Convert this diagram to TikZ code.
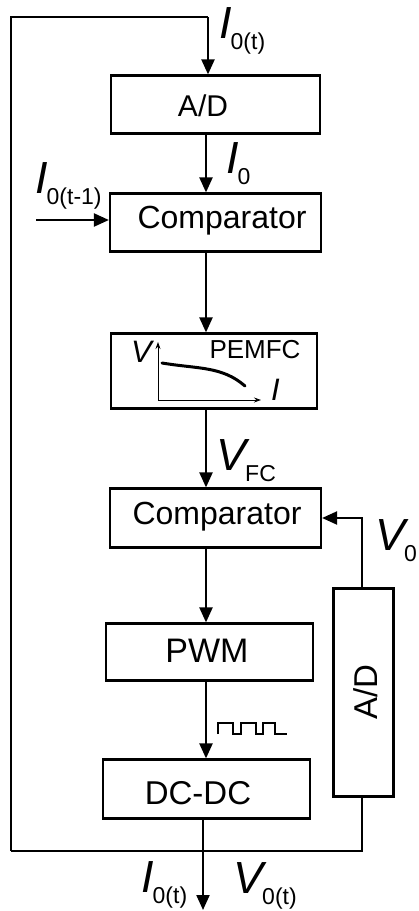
\documentclass[tikz,border=0pt]{standalone}
\usepackage{fontspec}
\setmainfont{Liberation Sans}
\usetikzlibrary{arrows.meta}
\newcommand{\biglab}[2]{{\fontsize{45}{45}\selectfont\itshape #1}\kern-1pt\raisebox{-11pt}{\fontsize{23}{23}\selectfont #2}}
\newcommand{\fs}[1]{\fontsize{#1}{#1}\selectfont}
\tikzset{
  blk/.style={draw, line width=2.2pt, rectangle, inner sep=0pt},
  txt/.style={inner sep=0pt, anchor=base},
  lab/.style={inner sep=0pt, anchor=base west},
  wire/.style={line width=2.2pt},
  arr/.style={line width=2.2pt, -{Triangle[length=15pt,width=13pt]}},
  axis/.style={line width=0.9pt, -{Stealth[length=7pt,width=5pt]}},
}
\begin{document}
\begin{tikzpicture}[x=1pt,y=-1pt]
\path[use as bounding box, fill=white] (0,0) rectangle (418,911);
% boxes
\node[blk, minimum width=209pt, minimum height=58pt] (ad1) at (215.5,104.5) {};
\node[blk, minimum width=211pt, minimum height=58pt] (cmp1) at (215.5,222.5) {};
\node[blk, minimum width=206pt, minimum height=75pt] (pem) at (214,371) {};
\node[blk, minimum width=211pt, minimum height=59pt] (cmp2) at (215.5,518) {};
\node[blk, minimum width=207pt, minimum height=57pt] (pwm) at (209.5,652) {};
\node[blk, minimum width=207pt, minimum height=59pt] (dcdc) at (206.5,789) {};
\node[blk, minimum width=60pt, minimum height=208pt] (ad2) at (363.5,692.5) {};
% box texts
\node[txt] (tad1) at (203,116) {\fs{30}A/D};
\node[txt] (tcmp1) at (222,228) {\fs{32}Comparator};
\node[txt] (tcmp2) at (217,524) {\fs{32}Comparator};
\node[txt] (tpwm) at (207,662) {\fs{34}PWM};
\node[txt] (tdcdc) at (198,804) {\fs{33}DC-DC};
\node[txt, rotate=90] (tad2) at (377,692) {\fs{33}A/D};
% PEMFC contents
\node[txt] (tpem) at (255,358) {\fs{26}PEMFC};
\node[lab] (tv) at (131,362) {\fs{31}\itshape V};
\node[lab] (ti) at (271,400) {\fs{31}\itshape I};
\coordinate (org) at (158,400);
\coordinate (ytop) at (158,342);
\coordinate (xend) at (261,400);
\draw[axis] (org) -- (ytop);
\draw[axis] (org) -- (xend);
\draw[line width=3pt, line cap=round] (162,363) .. controls (198,369) and (222,366) .. (245,386);
% coordinates
\coordinate (tl) at (11,17);
\coordinate (tr) at (208,17);
\coordinate (bl) at (11,851);
\coordinate (br) at (362,851);
\coordinate (cx) at (206,0);
\coordinate (in1) at (36,220);
\coordinate (vup) at (362,518);
\coordinate (ox) at (203,0);
\coordinate (out) at (203,910);
% connectors
\draw[wire] (bl) -- (tl) -- (tr);
\draw[arr] (tr) -- (tr |- ad1.north);
\draw[arr] (cx |- ad1.south) -- (cx |- cmp1.north);
\draw[arr] (in1) -- (in1 -| cmp1.west);
\draw[arr] (cx |- cmp1.south) -- (cx |- pem.north);
\draw[arr] (cx |- pem.south) -- (cx |- cmp2.north);
\draw[arr] (cx |- cmp2.south) -- (cx |- pwm.north);
\draw[arr] (cx |- pwm.south) -- (cx |- dcdc.north);
\draw[arr] (ox |- dcdc.south) -- (out);
\draw[wire] (bl) -- (br) -- (br |- ad2.south);
\draw[arr] (vup |- ad2.north) -- (vup) -- (cmp2.east |- vup);
% pulse train
\draw[line width=2pt] (218,734) -- (218,723) -- (233,723) -- (233,734) -- (241,734) -- (241,723) -- (256,723) -- (256,734) -- (263,734) -- (263,723) -- (275,723) -- (275,734) -- (287,734);
% labels
\node[lab] (l1) at (219,38) {\biglab{I}{0(t)}};
\node[lab] (l2) at (226,173) {\biglab{I}{0}};
\node[lab] (l3) at (35,193) {\biglab{I}{0(t-1)}};
\node[lab] (l4) at (216,470) {\biglab{V}{FC}};
\node[lab] (l5) at (375,550) {\biglab{V}{0}};
\node[lab] (l6) at (141,892) {\biglab{I}{0(t)}};
\node[lab] (l7) at (233,893) {\biglab{V}{0(t)}};
\end{tikzpicture}
\end{document}
